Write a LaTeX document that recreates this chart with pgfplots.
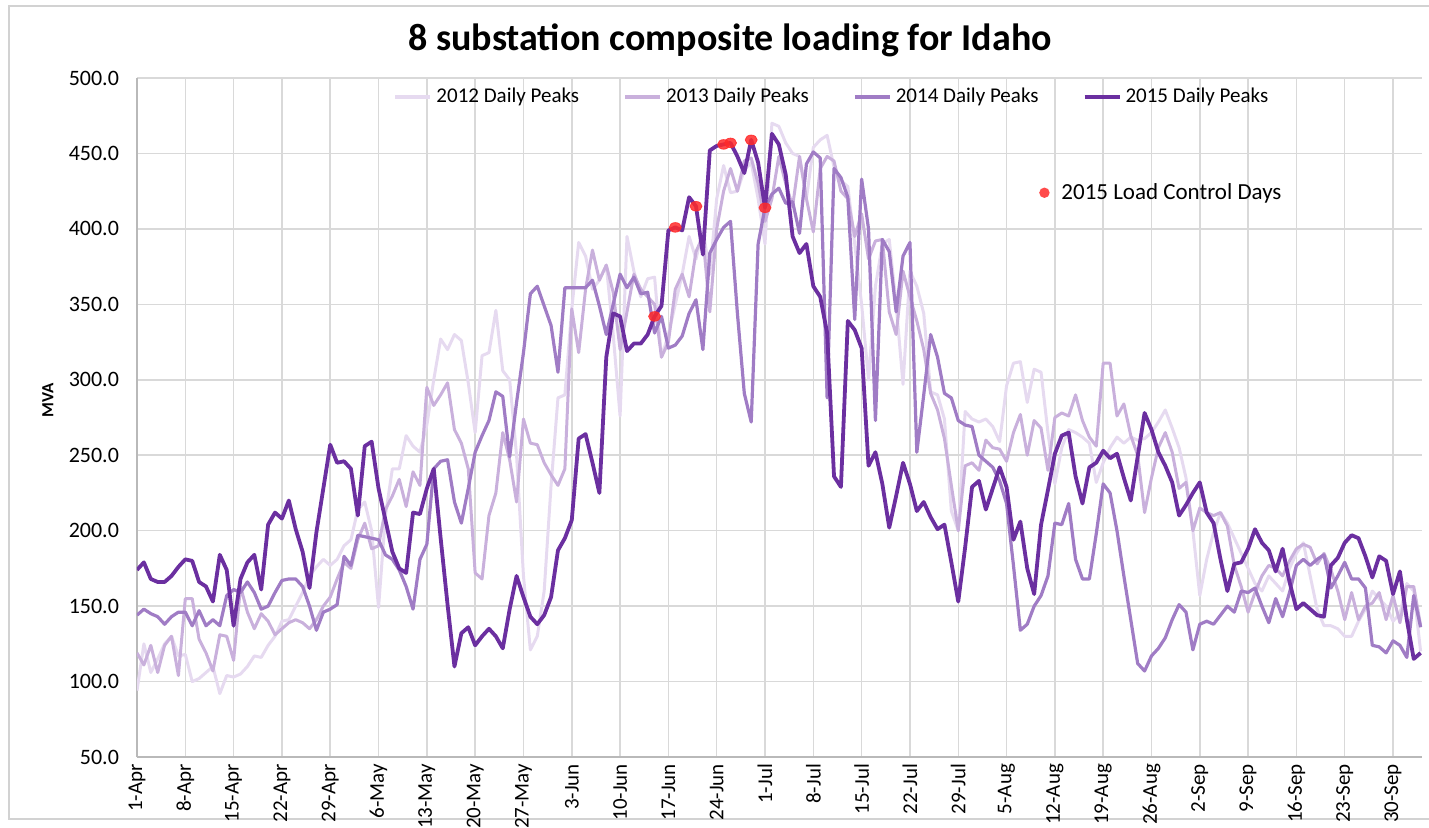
\documentclass[border=0pt]{standalone}
\usepackage{fontspec}
\setmainfont{Carlito}
\usepackage{pgfplots}
\pgfplotsset{compat=1.18}
\usepackage{pgfplotstable}
\definecolor{c12}{HTML}{E6DAF0}
\definecolor{c13}{HTML}{C9B0DC}
\definecolor{c14}{HTML}{A07CC5}
\definecolor{c15}{HTML}{6B2FA0}
\definecolor{gridc}{HTML}{D9D9D9}
\definecolor{dotc}{HTML}{FF2A2A}
\pgfplotstableread{
d y12 y13 y14 y15
0 94 119 144 174
1 125 111 148 179
2 106 124 145 168
3 115 106 143 166
4 125 124 138 166
5 130 130 143 170
6 117 104 146 176
7 118 155 146 181
8 100 155 137 180
9 102 128 147 166
10 106 119 137 163
11 110 107 141 153
12 92 131 137 184
13 104 130 157 174
14 103 114 161 137
15 105 163 159 168
16 110 146 166 179
17 117 135 159 184
18 116 145 148 161
19 124 140 150 204
20 130 131 159 212
21 140 135 167 208
22 141 139 168 220
23 150 141 168 201
24 159 139 163 186
25 170 135 150 162
26 176 141 134 199
27 181 150 146 228
28 177 156 148 257
29 181 168 151 245
30 190 179 183 246
31 194 175 177 241
32 214 194 197 210
33 219 205 196 256
34 200 188 195 259
35 149 190 194 228
36 210 214 184 207
37 241 223 181 186
38 241 234 174 175
39 263 216 163 172
40 256 239 148 212
41 252 230 181 211
42 270 295 191 228
43 300 283 241 241
44 327 290 246 195
45 320 298 247 151
46 330 267 219 110
47 326 258 205 132
48 298 241 228 136
49 265 172 252 124
50 316 168 263 130
51 318 210 273 135
52 346 225 292 130
53 306 265 289 122
54 300 247 249 148
55 250 219 285 170
56 170 274 318 156
57 121 258 357 143
58 130 257 362 138
59 160 245 349 144
60 230 237 336 156
61 288 230 305 187
62 290 241 361 195
63 347 347 361 207
64 391 318 361 261
65 382 360 361 264
66 360 386 366 245
67 366 366 349 225
68 376 376 330 315
69 330 358 350 344
70 276 320 370 342
71 395 345 361 319
72 372 370 368 324
73 355 360 357 324
74 367 355 358 330
75 368 350 331 342
76 315 315 342 349
77 330 325 321 399
78 350 360 323 401
79 370 370 329 399
80 395 355 344 421
81 380 385 353 415
82 400 395 320 383
83 370 345 384 452
84 420 400 393 455
85 442 425 401 456
86 424 440 405 457
87 425 425 344 448
88 439 445 291 437
89 444 447 272 459
90 420 430 390 444
91 390 405 414 414
92 470 420 423 463
93 468 448 427 456
94 457 430 417 436
95 450 415 418 395
96 448 448 397 384
97 420 420 443 390
98 454 398 451 362
99 459 440 447 355
100 462 448 288 331
101 441 445 440 236
102 432 425 434 229
103 428 420 421 339
104 390 395 340 333
105 350 410 433 321
106 300 380 400 243
107 362 392 273 252
108 390 393 393 231
109 393 345 385 202
110 350 330 345 223
111 297 372 382 245
112 372 355 391 231
113 362 339 252 213
114 344 320 290 219
115 292 291 330 209
116 290 280 315 201
117 274 261 291 204
118 213 230 288 179
119 200 200 273 153
120 279 243 270 189
121 274 245 269 229
122 272 240 250 233
123 274 260 246 214
124 269 255 242 228
125 259 254 233 242
126 296 246 218 229
127 311 265 177 194
128 312 277 134 206
129 285 250 138 175
130 307 273 150 158
131 305 268 157 204
132 265 240 170 227
133 231 275 205 251
134 255 278 204 263
135 267 276 218 265
136 265 290 181 236
137 262 273 168 218
138 258 262 168 242
139 232 256 198 245
140 245 311 231 253
141 255 311 225 248
142 262 276 200 251
143 258 284 170 235
144 262 263 141 220
145 260 250 112 249
146 261 212 107 278
147 265 235 117 267
148 272 255 122 252
149 280 265 129 243
150 268 252 141 232
151 255 228 151 210
152 235 232 146 217
153 200 200 121 225
154 157 215 138 232
155 181 212 140 212
156 199 210 138 205
157 212 212 144 181
158 205 203 150 160
159 195 177 146 178
160 185 163 160 179
161 175 146 159 188
162 165 159 162 201
163 160 170 150 192
164 170 177 139 187
165 165 175 155 173
166 160 170 143 188
167 175 180 159 166
168 185 188 177 148
169 192 191 181 152
170 170 189 177 148
171 148 178 181 144
172 137 185 184 143
173 137 174 162 177
174 135 160 170 182
175 130 141 179 192
176 130 159 168 197
177 140 141 168 195
178 148 150 162 183
179 160 152 124 169
180 155 159 123 183
181 150 141 119 180
182 140 157 127 158
183 145 139 124 173
184 165 163 116 141
185 160 163 157 115
186 120 137 136 119
}\peaks
\pgfplotstableread{
d v
75 342
78 401
81 415
85 456
86 457
89 459
91 414
}\lcd
\begin{document}
\begin{tikzpicture}
\useasboundingbox (-68.5pt,-35pt) rectangle (646pt,378.5pt);
\draw[color=gray!35, line width=0.75pt] (-64pt,-31pt) rectangle (660pt,375.5pt);
\begin{axis}[
  at={(0pt,0pt)}, anchor=south west,
  scale only axis, width=642.5pt, height=339.5pt,
  xmin=0, xmax=186.2, ymin=50, ymax=500,
  xtick={0,7,...,182},
  xticklabels={1-Apr,8-Apr,15-Apr,22-Apr,29-Apr,6-May,13-May,20-May,27-May,3-Jun,10-Jun,17-Jun,24-Jun,1-Jul,8-Jul,15-Jul,22-Jul,29-Jul,5-Aug,12-Aug,19-Aug,26-Aug,2-Sep,9-Sep,16-Sep,23-Sep,30-Sep},
  ytick={50,100,...,500},
  /pgf/number format/assume math mode=true,
  yticklabel={\pgfmathprintnumber[fixed,fixed zerofill,precision=1]{\tick}},
  yticklabel style={font=\fontsize{11}{12}\selectfont, xshift=-5.5pt},
  xticklabel style={rotate=90, anchor=east, font=\fontsize{10.5}{12}\selectfont},
  major tick length=0pt,
  grid=major,
  major grid style={color=gridc, line width=0.75pt},
  axis x line*=bottom, axis y line*=left,
  x axis line style={-, color=gray!55, line width=0.75pt},
  y axis line style={-, color=gray!55, line width=0.75pt},
  ylabel={\bfseries MVA},
  ylabel style={at={(axis description cs:-0.0693,0.525)}, anchor=center, font=\fontsize{8.5}{10}\selectfont},
  every axis title shift=0pt,
  title={8 substation composite loading for Idaho},
  title style={at={(axis description cs:0.4615,1.056)}, anchor=center, font=\fontsize{19}{22}\selectfont\bfseries},
  legend style={draw=none, fill=none, at={(axis description cs:0.1946,0.972)}, anchor=west,
    legend columns=4, font=\fontsize{10.5}{12}\selectfont,
    /tikz/every even column/.append style={column sep=20pt}},
  legend image code/.code={\draw[#1, line width=2pt] (0pt,0pt) -- (17.5pt,0pt);},
  legend cell align=left,
]
\addplot[c12, line width=1.5pt, line join=round] table[x=d, y=y12] {\peaks};
\addlegendentry{2012 Daily Peaks}
\addplot[c13, line width=1.5pt, line join=round] table[x=d, y=y13] {\peaks};
\addlegendentry{2013 Daily Peaks}
\addplot[c14, line width=1.6pt, line join=round] table[x=d, y=y14] {\peaks};
\addlegendentry{2014 Daily Peaks}
\addplot[c15, line width=1.9pt, line join=round] table[x=d, y=y15] {\peaks};
\addlegendentry{2015 Daily Peaks}
\addplot[only marks, mark=*, mark size=2.4pt, color=dotc, opacity=0.85, mark options={xscale=1.25}, forget plot] table[x=d, y=v] {\lcd};
\end{axis}
\begin{axis}[
  at={(0pt,0pt)}, anchor=south west,
  scale only axis, width=642.5pt, height=339.5pt,
  hide axis, xmin=0, xmax=1, ymin=0, ymax=1,
  legend style={draw=none, fill=none, at={(axis cs:0.6934,0.831)}, anchor=west, font=\fontsize{11.5}{13}\selectfont},
]
\addlegendimage{legend image code/.code={\path[draw=none, fill=none] (0pt,-1pt) rectangle (11.5pt,1pt); \fill[dotc, opacity=0.85, draw=none] (5pt,0pt) circle (2.6pt);}}
\addlegendentry{2015 Load Control Days}
\end{axis}
\end{tikzpicture}
\end{document}
